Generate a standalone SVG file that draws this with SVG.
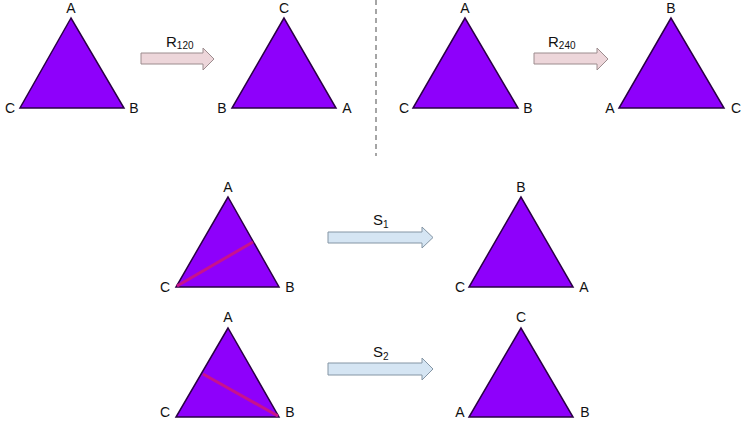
<svg xmlns="http://www.w3.org/2000/svg" width="750" height="421" viewBox="0 0 750 421">
<style>
.tri{fill:#8e00fb;stroke:#2a0045;stroke-width:1.5;stroke-linejoin:miter}
.lbl{font-family:"Liberation Sans",Arial,sans-serif;font-size:14px;fill:#111;text-anchor:middle}
.alb{font-family:"Liberation Sans",Arial,sans-serif;font-size:15px;fill:#111}
.sub{font-size:10px}
.pink{fill:#edd6da;stroke:#9c8c8e;stroke-width:1}
.blue{fill:#d5e5f3;stroke:#8495a4;stroke-width:1}
.axis{stroke:#c8128c;stroke-width:3}
</style>
<rect width="750" height="421" fill="#ffffff"/>
<line x1="376" y1="0" x2="376" y2="156" stroke="#888" stroke-width="1.5" stroke-dasharray="5,4"/>
<g id="t1">
<polygon class="tri" points="71,18 20,108 124,108"/>
<text class="lbl" x="71" y="13">A</text><text class="lbl" x="10" y="113">C</text><text class="lbl" x="134" y="113">B</text>
</g>
<g id="t2">
<polygon class="tri" points="284,18 232,108 336,108"/>
<text class="lbl" x="284" y="13">C</text><text class="lbl" x="222" y="113">B</text><text class="lbl" x="347" y="113">A</text>
</g>
<g id="t3">
<polygon class="tri" points="465,18 413,108 518,108"/>
<text class="lbl" x="465" y="13">A</text><text class="lbl" x="404" y="113">C</text><text class="lbl" x="528" y="113">B</text>
</g>
<g id="t4">
<polygon class="tri" points="671,18 619,108 724,108"/>
<text class="lbl" x="671" y="13">B</text><text class="lbl" x="610" y="113">A</text><text class="lbl" x="736" y="113">C</text>
</g>
<g id="t5">
<polygon class="tri" points="228,197 176,287 279,287"/>
<line class="axis" x1="177" y1="286" x2="253" y2="242"/>
<text class="lbl" x="228" y="192">A</text><text class="lbl" x="165" y="292">C</text><text class="lbl" x="290" y="292">B</text>
</g>
<g id="t6">
<polygon class="tri" points="521,197 469,287 573,287"/>
<text class="lbl" x="521" y="192">B</text><text class="lbl" x="460" y="292">C</text><text class="lbl" x="584" y="292">A</text>
</g>
<g id="t7">
<polygon class="tri" points="228,328 176,417 279,417"/>
<line class="axis" x1="278" y1="416" x2="203" y2="374"/>
<text class="lbl" x="228" y="322">A</text><text class="lbl" x="165" y="417">C</text><text class="lbl" x="290" y="417">B</text>
</g>
<g id="t8">
<polygon class="tri" points="521,328 469,417 573,417"/>
<text class="lbl" x="521" y="322">C</text><text class="lbl" x="460" y="417">A</text><text class="lbl" x="585" y="417">B</text>
</g>
<g id="connectors">
<polygon class="pink" points="141,53 203,53 203,48 214,59 203,70 203,64 141,64"/>
<text class="alb" x="166" y="47">R<tspan class="sub" dy="2">120</tspan></text>
<polygon class="pink" points="534,53 597,53 597,48 608,59 597,70 597,64 534,64"/>
<text class="alb" x="548" y="47">R<tspan class="sub" dy="2">240</tspan></text>
<polygon class="blue" points="328,232 422,232 422,227 433,237.5 422,248 422,243 328,243"/>
<text class="alb" x="373" y="225">S<tspan class="sub" dy="3">1</tspan></text>
<polygon class="blue" points="328,363 422,363 422,358 433,369 422,380 422,375 328,375"/>
<text class="alb" x="373" y="357">S<tspan class="sub" dy="3">2</tspan></text>
</g>
</svg>
